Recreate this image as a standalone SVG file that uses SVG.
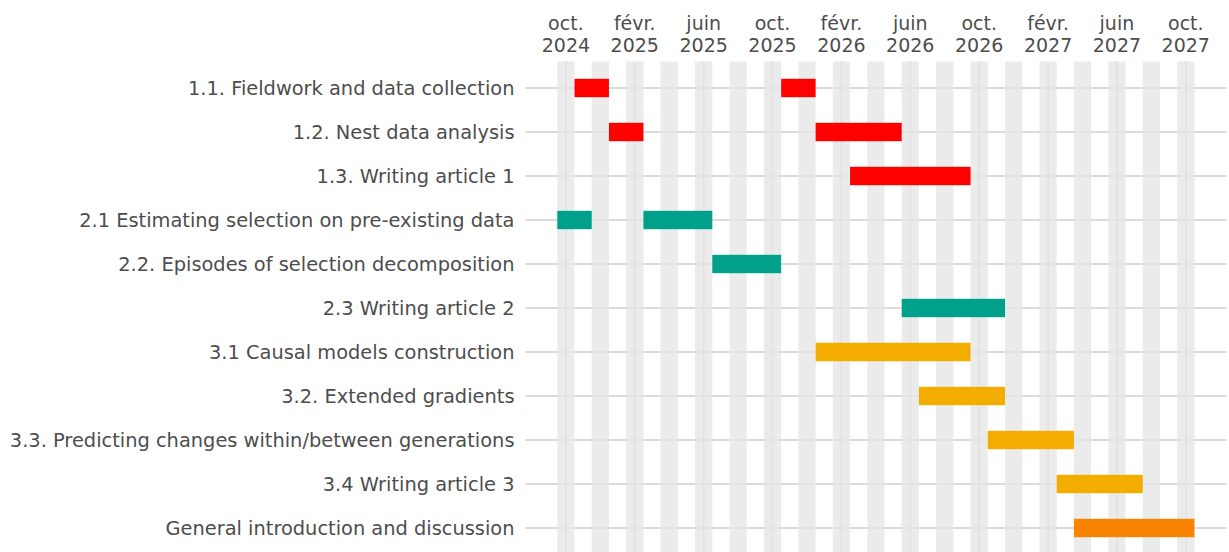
<svg xmlns="http://www.w3.org/2000/svg" width="1229" height="552" viewBox="0 0 1229 552">
  <style>
    text { font-family: "DejaVu Sans", "Liberation Sans", sans-serif; font-size: 19px; fill: #4d4d4d; }
    .tick { text-anchor: middle; }
    .lab { text-anchor: end; font-size: 19.4px; }
    .grid { stroke: #cfcfcf; stroke-width: 1.6; fill: none; }
    .stripe { fill: #e6e6e6; fill-opacity: 0.8; }
    .wp1 { fill: #FF0000; }
    .wp2 { fill: #00A08A; }
    .wp3 { fill: #F2AD00; }
    .wp4 { fill: #F98400; }
  </style>

  <rect width="1229" height="552" fill="#ffffff"/>

  <!-- panel grid -->
  <g id="grid">
    <g id="grid-rows">
      <line class="grid" x1="525.4" x2="1226.3" y1="88" y2="88"/>
      <line class="grid" x1="525.4" x2="1226.3" y1="132" y2="132"/>
      <line class="grid" x1="525.4" x2="1226.3" y1="176" y2="176"/>
      <line class="grid" x1="525.4" x2="1226.3" y1="220" y2="220"/>
      <line class="grid" x1="525.4" x2="1226.3" y1="264" y2="264"/>
      <line class="grid" x1="525.4" x2="1226.3" y1="308" y2="308"/>
      <line class="grid" x1="525.4" x2="1226.3" y1="352" y2="352"/>
      <line class="grid" x1="525.4" x2="1226.3" y1="396" y2="396"/>
      <line class="grid" x1="525.4" x2="1226.3" y1="440" y2="440"/>
      <line class="grid" x1="525.4" x2="1226.3" y1="484" y2="484"/>
      <line class="grid" x1="525.4" x2="1226.3" y1="528" y2="528"/>
    </g>
    <g id="grid-ticks">
      <line class="grid" x1="565.9" x2="565.9" y1="61.6" y2="552"/>
      <line class="grid" x1="634.8" x2="634.8" y1="61.6" y2="552"/>
      <line class="grid" x1="703.7" x2="703.7" y1="61.6" y2="552"/>
      <line class="grid" x1="772.5" x2="772.5" y1="61.6" y2="552"/>
      <line class="grid" x1="841.4" x2="841.4" y1="61.6" y2="552"/>
      <line class="grid" x1="910.3" x2="910.3" y1="61.6" y2="552"/>
      <line class="grid" x1="979.2" x2="979.2" y1="61.6" y2="552"/>
      <line class="grid" x1="1048.1" x2="1048.1" y1="61.6" y2="552"/>
      <line class="grid" x1="1116.9" x2="1116.9" y1="61.6" y2="552"/>
      <line class="grid" x1="1185.8" x2="1185.8" y1="61.6" y2="552"/>
    </g>
    <!-- alternating month bands -->
    <g id="stripes">
      <rect class="stripe" x="557.3" y="61.6" width="17.22" height="491"/>
      <rect class="stripe" x="591.74" y="61.6" width="17.22" height="491"/>
      <rect class="stripe" x="626.18" y="61.6" width="17.22" height="491"/>
      <rect class="stripe" x="660.62" y="61.6" width="17.22" height="491"/>
      <rect class="stripe" x="695.06" y="61.6" width="17.22" height="491"/>
      <rect class="stripe" x="729.5" y="61.6" width="17.22" height="491"/>
      <rect class="stripe" x="763.94" y="61.6" width="17.22" height="491"/>
      <rect class="stripe" x="798.38" y="61.6" width="17.22" height="491"/>
      <rect class="stripe" x="832.82" y="61.6" width="17.22" height="491"/>
      <rect class="stripe" x="867.26" y="61.6" width="17.22" height="491"/>
      <rect class="stripe" x="901.7" y="61.6" width="17.22" height="491"/>
      <rect class="stripe" x="936.14" y="61.6" width="17.22" height="491"/>
      <rect class="stripe" x="970.58" y="61.6" width="17.22" height="491"/>
      <rect class="stripe" x="1005.02" y="61.6" width="17.22" height="491"/>
      <rect class="stripe" x="1039.46" y="61.6" width="17.22" height="491"/>
      <rect class="stripe" x="1073.9" y="61.6" width="17.22" height="491"/>
      <rect class="stripe" x="1108.34" y="61.6" width="17.22" height="491"/>
      <rect class="stripe" x="1142.78" y="61.6" width="17.22" height="491"/>
      <rect class="stripe" x="1177.22" y="61.6" width="17.22" height="491"/>
    </g>
  </g>

  <!-- time axis labels -->
  <g id="x-axis">
    <text class="tick" x="565.9" y="30">oct.</text><text class="tick" x="565.9" y="52">2024</text>
    <text class="tick" x="634.8" y="30">févr.</text><text class="tick" x="634.8" y="52">2025</text>
    <text class="tick" x="703.7" y="30">juin</text><text class="tick" x="703.7" y="52">2025</text>
    <text class="tick" x="772.5" y="30">oct.</text><text class="tick" x="772.5" y="52">2025</text>
    <text class="tick" x="841.4" y="30">févr.</text><text class="tick" x="841.4" y="52">2026</text>
    <text class="tick" x="910.3" y="30">juin</text><text class="tick" x="910.3" y="52">2026</text>
    <text class="tick" x="979.2" y="30">oct.</text><text class="tick" x="979.2" y="52">2026</text>
    <text class="tick" x="1048.1" y="30">févr.</text><text class="tick" x="1048.1" y="52">2027</text>
    <text class="tick" x="1116.9" y="30">juin</text><text class="tick" x="1116.9" y="52">2027</text>
    <text class="tick" x="1185.8" y="30">oct.</text><text class="tick" x="1185.8" y="52">2027</text>
  </g>

  <!-- tasks: label + bars -->
  <g id="task-1-1">
    <text class="lab" x="514.5" y="94.5">1.1. Fieldwork and data collection</text>
    <rect class="wp1" x="574.52" y="78.8" width="34.44" height="18.4"/>
    <rect class="wp1" x="781.16" y="78.8" width="34.44" height="18.4"/>
  </g>
  <g id="task-1-2">
    <text class="lab" x="514.5" y="138.5">1.2. Nest data analysis</text>
    <rect class="wp1" x="608.96" y="122.8" width="34.44" height="18.4"/>
    <rect class="wp1" x="815.6" y="122.8" width="86.1" height="18.4"/>
  </g>
  <g id="task-1-3">
    <text class="lab" x="514.5" y="182.5">1.3. Writing article 1</text>
    <rect class="wp1" x="850.04" y="166.8" width="120.54" height="18.4"/>
  </g>
  <g id="task-2-1">
    <text class="lab" x="514.5" y="226.5">2.1 Estimating selection on pre-existing data</text>
    <rect class="wp2" x="557.3" y="210.8" width="34.44" height="18.4"/>
    <rect class="wp2" x="643.4" y="210.8" width="68.88" height="18.4"/>
  </g>
  <g id="task-2-2">
    <text class="lab" x="514.5" y="270.5">2.2. Episodes of selection decomposition</text>
    <rect class="wp2" x="712.28" y="254.8" width="68.88" height="18.4"/>
  </g>
  <g id="task-2-3">
    <text class="lab" x="514.5" y="314.5">2.3 Writing article 2</text>
    <rect class="wp2" x="901.7" y="298.8" width="103.32" height="18.4"/>
  </g>
  <g id="task-3-1">
    <text class="lab" x="514.5" y="358.5">3.1 Causal models construction</text>
    <rect class="wp3" x="815.6" y="342.8" width="154.98" height="18.4"/>
  </g>
  <g id="task-3-2">
    <text class="lab" x="514.5" y="402.5">3.2. Extended gradients</text>
    <rect class="wp3" x="918.92" y="386.8" width="86.1" height="18.4"/>
  </g>
  <g id="task-3-3">
    <text class="lab" x="514.5" y="446.5">3.3. Predicting changes within/between generations</text>
    <rect class="wp3" x="987.8" y="430.8" width="86.1" height="18.4"/>
  </g>
  <g id="task-3-4">
    <text class="lab" x="514.5" y="490.5">3.4 Writing article 3</text>
    <rect class="wp3" x="1056.68" y="474.8" width="86.1" height="18.4"/>
  </g>
  <g id="task-general">
    <text class="lab" x="514.5" y="534.5">General introduction and discussion</text>
    <rect class="wp4" x="1073.9" y="518.8" width="120.54" height="18.4"/>
  </g>
</svg>
